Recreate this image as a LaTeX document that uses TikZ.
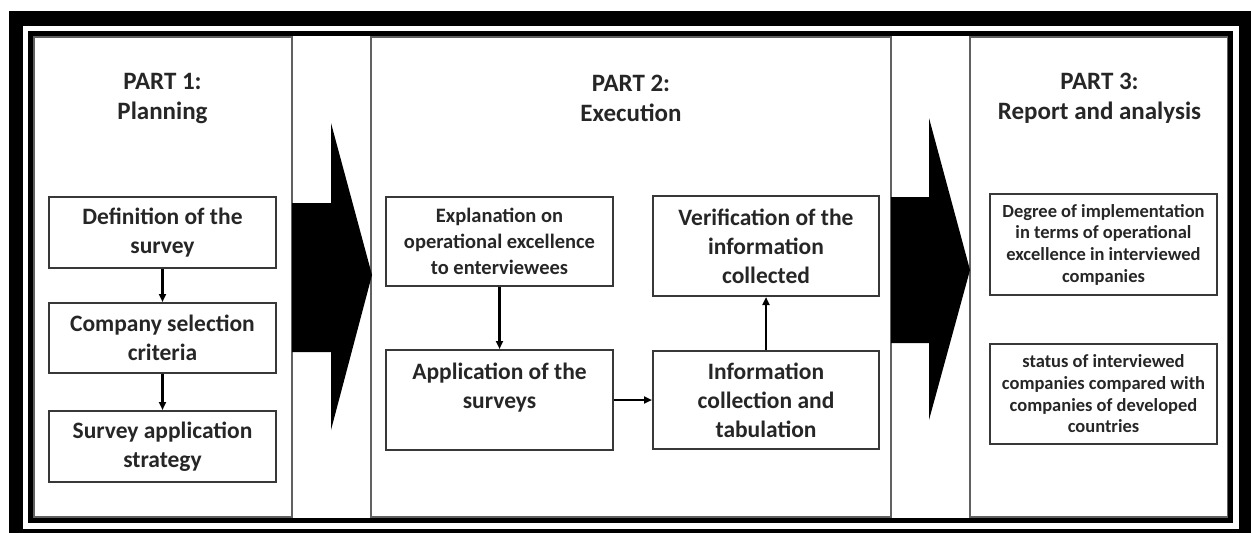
\documentclass[tikz,border=0pt]{standalone}
\usepackage{fontspec}
\setmainfont{Carlito}
\usetikzlibrary{arrows.meta}
\newcommand{\titlefont}{\fontsize{25}{30}\selectfont\bfseries}
\newcommand{\boxfont}{\fontsize{23.5}{29}\selectfont\bfseries}
\newcommand{\smallboxfont}{\fontsize{20.5}{26}\selectfont\bfseries}
\newcommand{\tinyboxfont}{\fontsize{18.5}{21.7}\selectfont\bfseries}
\tikzset{
  panel/.style={draw=black!62, line width=2.5pt},
  parttitle/.style={align=center, inner sep=0pt, text=black!85, font=\titlefont},
  stepbox/.style={draw=black!78, line width=2pt, align=center, inner sep=0pt,
    minimum width=227pt, text=black!85},
  flow/.style={line width=2.3pt, -{Triangle[length=8pt,width=7pt]}},
}

\begin{document}
\begin{tikzpicture}[x=1pt, y=-1pt]
\useasboundingbox (0,0) rectangle (1251,533);

% the three parts
\draw[panel] (34,37) rectangle (292,517);
\draw[panel] (371,37) rectangle (891,517);
\draw[panel] (970,37) rectangle (1228,517);

% double frame
\draw[line width=5pt] (30.5,33.5) rectangle (1230.5,520.5);
\draw[line width=14.5pt] (16,18.5) rectangle (1246,536);

% big arrows between the parts
\fill (292,203) -- (331,203) -- (331,123) -- (372,275) -- (331,430) -- (331,352) -- (292,352) -- cycle;
\fill (891,197) -- (929,197) -- (929,118) -- (970,270) -- (929,420) -- (929,343) -- (891,343) -- cycle;

% PART 1
\node[parttitle] (plan) at (162.5,98) {PART 1:\\Planning};
\node[stepbox, minimum height=71pt, font=\boxfont] (defsurvey) at (162.5,232.5) {Definition of the\\survey};
\node[stepbox, minimum height=70pt, font=\boxfont] (compsel) at (162.5,338) {Company selection\\criteria};
\node[stepbox, minimum height=71pt, font=\boxfont] (strategy) at (162.5,446.5) {Survey application\\strategy};
\draw[flow] (defsurvey) -- (compsel);
\draw[flow] (compsel) -- (strategy);

% PART 2
\node[parttitle] (exec) at (631,98) {PART 2:\\Execution};
\node[stepbox, minimum height=89pt, font=\smallboxfont] (explain) at (499.5,241.5) {Explanation on\\operational excellence\\to enterviewees};
\node[stepbox, minimum height=100pt, font=\boxfont] (apply) at (499.5,400) {Application of the\\surveys\\~};
\node[stepbox, minimum width=226pt, minimum height=100pt, font=\boxfont] (verify) at (766,246) {Verification of the\\information\\collected};
\node[stepbox, minimum width=226pt, minimum height=98pt, font=\boxfont] (collect) at (766,400) {Information\\collection and\\tabulation};
\draw[flow] (explain) -- (apply);
\draw[flow] (apply) -- (collect);
\draw[flow] (collect) -- (verify);

% PART 3
\node[parttitle] (report) at (1099.5,98) {PART 3:\\Report and analysis};
\node[stepbox, minimum height=101pt, font=\tinyboxfont] (degree) at (1103.5,244.5) {Degree of implementation\\in terms of operational\\excellence in interviewed\\companies};
\node[stepbox, minimum height=100pt, font=\tinyboxfont] (status) at (1103.5,394) {status of interviewed\\companies compared with\\companies of developed\\countries};
\end{tikzpicture}
\end{document}
